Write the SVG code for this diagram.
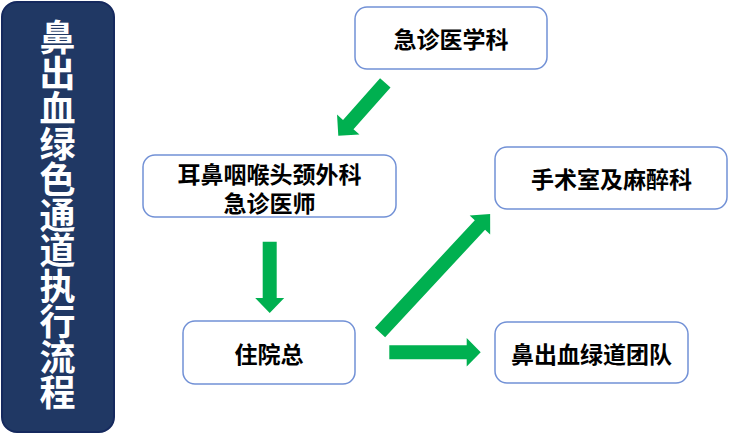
<svg xmlns="http://www.w3.org/2000/svg" width="732" height="434" viewBox="0 0 732 434">
<defs>
<style>
.box{fill:#ffffff;stroke:#7291d6;stroke-width:1.5}
.t{font-family:"Noto Sans CJK SC","Noto Sans",sans-serif;font-weight:bold;font-size:23px;fill:#000000;text-anchor:middle;dominant-baseline:central}
.side{font-family:"Noto Sans CJK SC","Noto Sans",sans-serif;font-weight:bold;font-size:36px;fill:#ffffff;writing-mode:vertical-rl;text-anchor:middle;letter-spacing:-0.5px}
.arr{fill:#00b050}
</style>
</defs>
<rect width="732" height="434" fill="#ffffff"/>
<g id="title">
<rect x="2" y="2" width="112" height="430" rx="15" fill="#203864" stroke="#15295e" stroke-width="2"/>
<text class="side" x="57.5" y="215">鼻出血绿色通道执行流程</text>
</g>
<g id="emergency">
<rect class="box" x="355" y="7" width="192" height="62" rx="12"/>
<text class="t" x="451" y="38">急诊医学科</text>
</g>
<g id="ent">
<rect class="box" x="143" y="155" width="253" height="62" rx="12"/>
<text class="t"><tspan x="269.5" y="173">耳鼻咽喉头颈外科</tspan><tspan x="269.5" y="201.5">急诊医师</tspan></text>
</g>
<g id="surgery">
<rect class="box" x="495" y="147" width="232" height="62" rx="12"/>
<text class="t" x="611.5" y="178">手术室及麻醉科</text>
</g>
<g id="resident">
<rect class="box" x="183" y="321" width="172" height="63" rx="12"/>
<text class="t" x="269" y="352.5">住院总</text>
</g>
<g id="team">
<rect class="box" x="495" y="322" width="193" height="61" rx="12"/>
<text class="t" x="591.5" y="352.5">鼻出血绿道团队</text>
</g>
<g id="connectors">
<polygon class="arr" transform="translate(385.3,82.8) rotate(131.6)" points="0,-7 55.8,-7 55.8,-15 70.8,0 55.8,15 55.8,7 0,7"/>
<polygon class="arr" transform="translate(269.7,241.7) rotate(90)" points="0,-7 56.3,-7 56.3,-14.5 71.3,0 56.3,14.5 56.3,7 0,7"/>
<polygon class="arr" transform="translate(380,332.5) rotate(-47.1)" points="0,-7 146.8,-7 146.8,-14 161.8,0 146.8,14 146.8,7 0,7"/>
<polygon class="arr" transform="translate(389.3,352.2) rotate(0)" points="0,-7 77.4,-7 77.4,-14.2 91.4,0 77.4,14.2 77.4,7 0,7"/>
</g>
</svg>
